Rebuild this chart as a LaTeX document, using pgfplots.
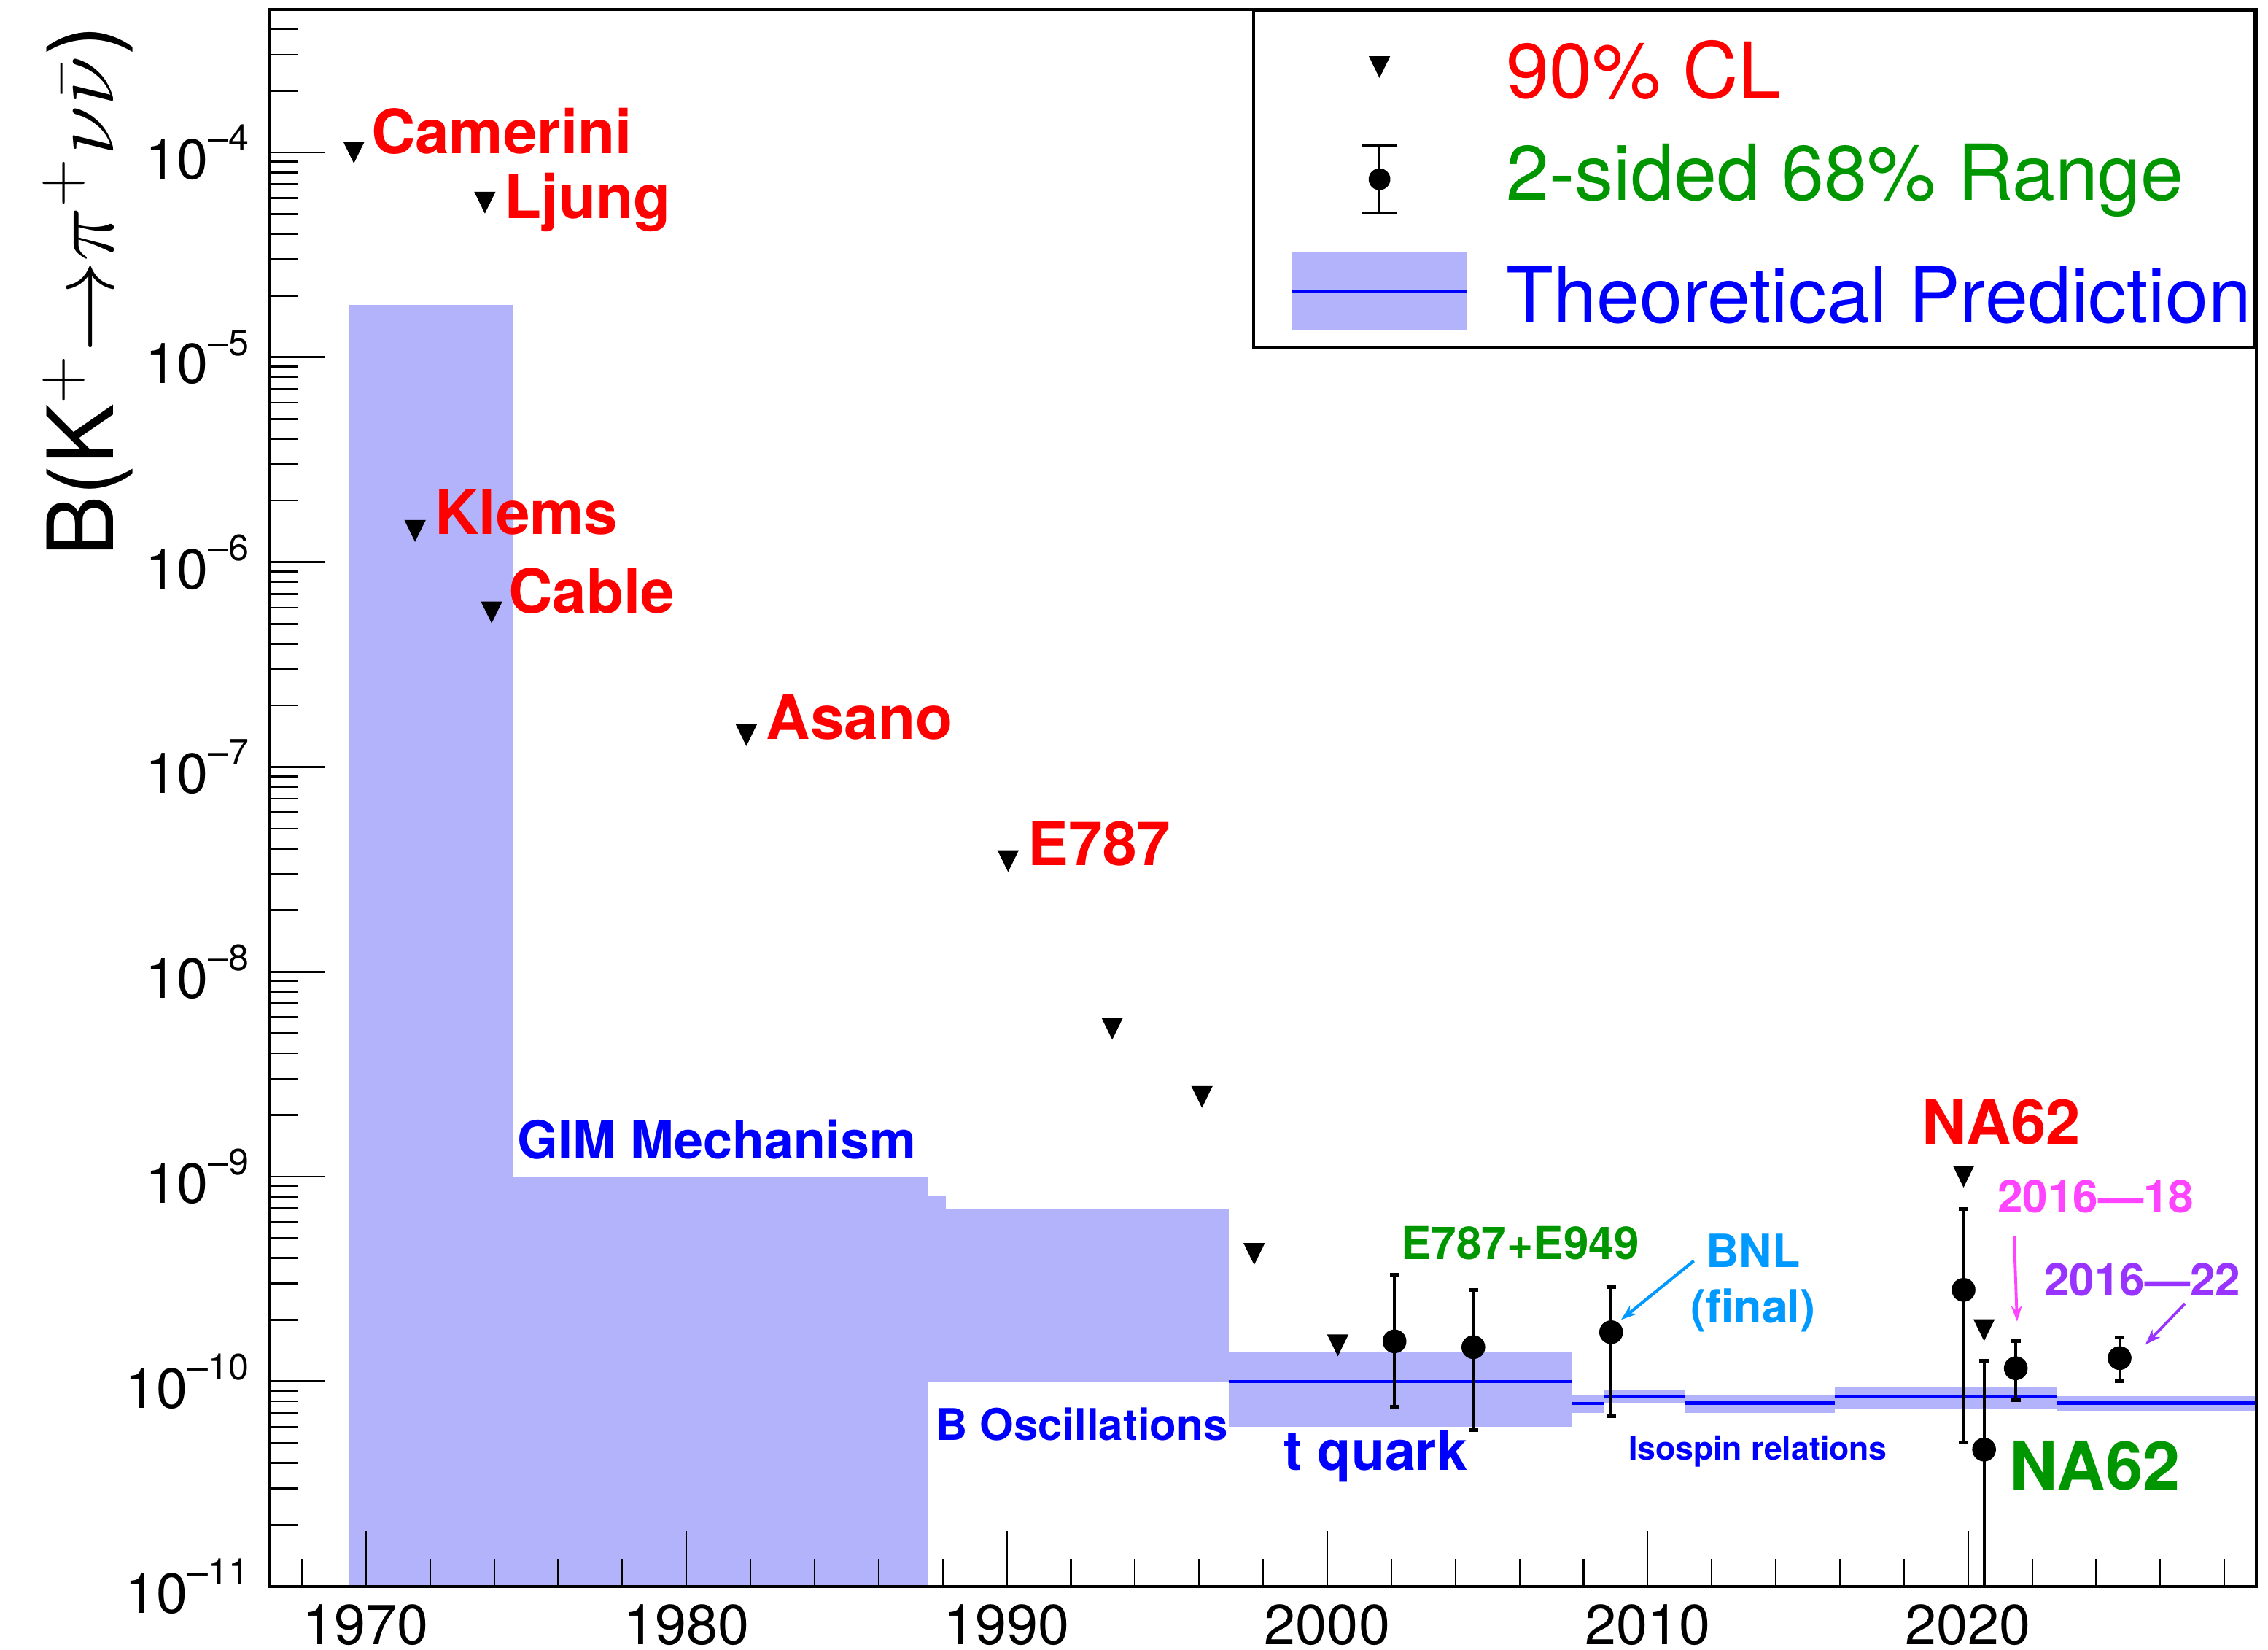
\documentclass[border=0pt]{standalone}
\usepackage{fix-cm}
\usepackage{fontspec}
\setmainfont{TeX Gyre Heros}
\usepackage{pgfplots}
\pgfplotsset{compat=1.18}
\usetikzlibrary{arrows.meta}

\definecolor{bandc}{RGB}{179,179,252}
\definecolor{rootgreen}{RGB}{0,150,0}
\definecolor{bnlblue}{RGB}{0,153,255}
\definecolor{magc}{RGB}{255,68,255}
\definecolor{purpc}{RGB}{153,51,255}

\pgfdeclareplotmark{tridown}{%
  \pgfpathmoveto{\pgfpoint{-0.74mm}{0.755mm}}%
  \pgfpathlineto{\pgfpoint{0.74mm}{0.755mm}}%
  \pgfpathlineto{\pgfpoint{0mm}{-0.755mm}}%
  \pgfpathclose
  \pgfusepathqfill}
\pgfdeclareplotmark{errleg}{%
  \pgfsetlinewidth{0.5pt}%
  \pgfpathmoveto{\pgfpoint{0mm}{-2.33mm}}%
  \pgfpathlineto{\pgfpoint{0mm}{2.33mm}}%
  \pgfusepathqstroke
  \pgfsetlinewidth{0.6pt}%
  \pgfpathmoveto{\pgfpoint{-1.22mm}{2.33mm}}%
  \pgfpathlineto{\pgfpoint{1.22mm}{2.33mm}}%
  \pgfpathmoveto{\pgfpoint{-1.22mm}{-2.33mm}}%
  \pgfpathlineto{\pgfpoint{1.22mm}{-2.33mm}}%
  \pgfusepathqstroke
  \pgfpathcircle{\pgfpoint{0mm}{0mm}}{0.75mm}%
  \pgfusepathqfill}
\pgfdeclareplotmark{bandleg}{%
  \pgfsetfillcolor{bandc}%
  \pgfpathrectangle{\pgfpoint{-6.075mm}{-2.71mm}}{\pgfpoint{12.15mm}{5.42mm}}%
  \pgfusepathqfill
  \pgfsetstrokecolor{blue}%
  \pgfsetlinewidth{0.6pt}%
  \pgfpathmoveto{\pgfpoint{-6.075mm}{0mm}}%
  \pgfpathlineto{\pgfpoint{6.075mm}{0mm}}%
  \pgfusepathqstroke}

\newcommand{\tp}[1]{10\raisebox{1.95mm}{\fontsize{7.2}{8}\selectfont --#1}}
\tikzset{lbl/.style={anchor=base west, inner sep=0pt}}

\begin{document}
\begin{tikzpicture}
\useasboundingbox (-18.66mm,-4.36mm) rectangle (138.14mm,109.64mm);
\begin{axis}[
  at={(0,0)}, anchor=south west,
  scale only axis, width=137.34mm, height=109.0mm,
  xmin=1967, xmax=2029, ymode=log, ymin=1e-11, ymax=5e-4,
  axis on top,
  xtick={1970,1980,1990,2000,2010,2020},
  xticklabels={1970,1980,1990,2000,2010,2020},
  minor xtick={1968,1970,1972,1974,1976,1978,1980,1982,1984,1986,1988,1990,1992,1994,1996,1998,2000,2002,2004,2006,2008,2010,2012,2014,2016,2018,2020,2022,2024,2026,2028},
  ytick={1e-11,1e-10,1e-9,1e-8,1e-7,1e-6,1e-5,1e-4},
  yticklabels={\tp{11},\tp{10},\tp{9},\tp{8},\tp{7},\tp{6},\tp{5},\tp{4}},
  minor ytick={2e-11,3e-11,4e-11,5e-11,6e-11,7e-11,8e-11,9e-11,
    2e-10,3e-10,4e-10,5e-10,6e-10,7e-10,8e-10,9e-10,
    2e-9,3e-9,4e-9,5e-9,6e-9,7e-9,8e-9,9e-9,
    2e-8,3e-8,4e-8,5e-8,6e-8,7e-8,8e-8,9e-8,
    2e-7,3e-7,4e-7,5e-7,6e-7,7e-7,8e-7,9e-7,
    2e-6,3e-6,4e-6,5e-6,6e-6,7e-6,8e-6,9e-6,
    2e-5,3e-5,4e-5,5e-5,6e-5,7e-5,8e-5,9e-5,
    2e-4,3e-4,4e-4},
  xtick pos=left, ytick pos=left,
  tick align=inside,
  major tick length=3.8mm, minor tick length=1.9mm,
  xtick style={line width=0.3pt, black},
  ytick style={line width=0.4pt, black},
  axis line style={line width=0.57pt},
  xticklabel style={font=\fontsize{11.1}{13}\selectfont, inner sep=0pt, anchor=north, yshift=-1.2mm},
  yticklabel style={font=\fontsize{11.1}{13}\selectfont, inner sep=0pt, anchor=east, xshift=-1.38mm},
  ylabel={B(K$^{+}\mathord{\rightarrow}\pi^{+}\nu\bar{\nu}$)},
  ylabel style={at={(axis description cs:-0.0789,0.9905)}, anchor=base east, inner sep=0pt, font=\fontsize{18}{22}\selectfont},
  legend cell align=left,
  legend style={at={(1,1)}, anchor=north east, draw=black, fill=white, line width=0.55pt,
    inner xsep=0.25mm, inner ysep=0.9mm, row sep=1.75mm, column sep=2.7mm,
    nodes={inner sep=0pt, text height=5.15mm, text depth=0.85mm, font=\fontsize{15.2}{18}\selectfont}},
]
% legend
\addlegendimage{legend image code/.code={\path[draw=none, fill=none] (-2.38mm,0mm) -- (12.15mm,0mm); \fill[black] plot[only marks, mark=tridown] coordinates {(6.07mm,0mm)};}}
\addlegendentry[text=red]{90\% CL}
\addlegendimage{legend image code/.code={\path[draw=none, fill=none] (-2.38mm,0mm) -- (12.15mm,0mm); \fill[black] plot[only marks, mark=errleg] coordinates {(6.07mm,0mm)};}}
\addlegendentry[text=rootgreen]{\raisebox{0.72mm}{2-sided 68\% Range}}
\addlegendimage{legend image code/.code={\path[draw=none, fill=none] (-2.38mm,0mm) -- (12.15mm,0mm); \fill[bandc] plot[only marks, mark=bandleg] coordinates {(6.075mm,0mm)};}}
\addlegendentry[text=blue]{Theoretical Prediction}

% theory bands
\addplot[fill=bandc, draw=none, forget plot] coordinates {(1969.47,1e-11) (1974.6,1e-11) (1974.6,1.8e-5) (1969.47,1.8e-5)} -- cycle;
\addplot[fill=bandc, draw=none, forget plot] coordinates {(1974.6,1e-11) (1987.55,1e-11) (1987.55,1e-9) (1974.6,1e-9)} -- cycle;
\addplot[fill=bandc, draw=none, forget plot] coordinates {(1987.55,1e-10) (1988.09,1e-10) (1988.09,8.0e-10) (1987.55,8.0e-10)} -- cycle;
\addplot[fill=bandc, draw=none, forget plot] coordinates {(1988.09,1e-10) (1996.93,1e-10) (1996.93,7.0e-10) (1988.09,7.0e-10)} -- cycle;
\addplot[fill=bandc, draw=none, forget plot] coordinates {(1996.93,6.02e-11) (2007.63,6.02e-11) (2007.63,1.40e-10) (1996.93,1.40e-10)} -- cycle;
\addplot[fill=bandc, draw=none, forget plot] coordinates {(2007.63,7.0e-11) (2008.63,7.0e-11) (2008.63,8.65e-11) (2007.63,8.65e-11)} -- cycle;
\addplot[fill=bandc, draw=none, forget plot] coordinates {(2008.63,7.82e-11) (2011.17,7.82e-11) (2011.17,9.16e-11) (2008.63,9.16e-11)} -- cycle;
\addplot[fill=bandc, draw=none, forget plot] coordinates {(2011.17,7.0e-11) (2015.85,7.0e-11) (2015.85,8.6e-11) (2011.17,8.6e-11)} -- cycle;
\addplot[fill=bandc, draw=none, forget plot] coordinates {(2015.85,7.4e-11) (2022.75,7.4e-11) (2022.75,9.4e-11) (2015.85,9.4e-11)} -- cycle;
\addplot[fill=bandc, draw=none, forget plot] coordinates {(2022.75,7.2e-11) (2029,7.2e-11) (2029,8.45e-11) (2022.75,8.45e-11)} -- cycle;

% central values
\addplot[blue, line width=0.65pt, forget plot] coordinates {(1996.93,1e-10) (2007.63,1e-10)};
\addplot[blue, line width=0.65pt, forget plot] coordinates {(2007.63,7.82e-11) (2008.63,7.82e-11)};
\addplot[blue, line width=0.65pt, forget plot] coordinates {(2008.63,8.49e-11) (2011.17,8.49e-11)};
\addplot[blue, line width=0.65pt, forget plot] coordinates {(2011.17,7.84e-11) (2015.85,7.84e-11)};
\addplot[blue, line width=0.65pt, forget plot] coordinates {(2015.85,8.4e-11) (2022.75,8.4e-11)};
\addplot[blue, line width=0.65pt, forget plot] coordinates {(2022.75,7.85e-11) (2029,7.85e-11)};

% 90% CL upper limits
\addplot[only marks, mark=tridown, black, forget plot] coordinates {
 (1969.62,1.0e-4) (1973.71,5.69e-5) (1971.53,1.42e-6) (1973.92,5.68e-7)
 (1981.87,1.43e-7) (1990.04,3.47e-8) (1993.29,5.27e-9) (1996.09,2.45e-9)
 (1997.72,4.19e-10) (2000.33,1.5e-10) (2019.86,1.0e-9) (2020.5,1.78e-10)};

% measurements with 68% ranges
\addplot[only marks, mark=*, mark size=0.75mm, black, forget plot,
  error bars/.cd, y dir=both, y explicit,
  error bar style={line width=0.55pt, black},
  error mark options={rotate=90, line width=0.75pt, mark size=0.33mm, black}]
  table[x=x, y=y, y error plus=ep, y error minus=em, row sep=\\] {
  x y ep em \\
  2002.10 1.57e-10 1.75e-10 0.82e-10 \\
  2004.56 1.47e-10 1.32e-10 0.89e-10 \\
  2008.86 1.74e-10 1.15e-10 1.06e-10 \\
  2019.86 2.80e-10 4.15e-10 2.295e-10 \\
  2020.50 4.65e-11 7.95e-11 4.64e-11 \\
  2021.49 1.16e-10 0.41e-10 0.35e-10 \\
  2024.73 1.30e-10 0.34e-10 0.30e-10 \\
};

% arrows
\addplot[bnlblue, line width=0.6pt, -{Stealth[length=1.1mm, width=0.75mm]}, forget plot] coordinates {(2011.44,3.88e-10) (2009.17,2.0e-10)};
\addplot[magc, line width=0.55pt, -{Stealth[length=1.1mm, width=0.75mm]}, forget plot] coordinates {(2021.44,5.1e-10) (2021.53,1.96e-10)};
\addplot[purpc, line width=0.55pt, -{Stealth[length=1.1mm, width=0.75mm]}, forget plot] coordinates {(2026.77,2.4e-10) (2025.53,1.51e-10)};

% labels
\node[lbl, text=red, font=\bfseries\fontsize{12}{14}\selectfont] at (axis cs:1970.13,9.9e-5) {Camerini};
\node[lbl, text=red, font=\bfseries\fontsize{12}{14}\selectfont] at (axis cs:1974.29,4.76e-5) {Ljung};
\node[lbl, text=red, font=\bfseries\fontsize{12}{14}\selectfont] at (axis cs:1972.12,1.37e-6) {Klems};
\node[lbl, text=red, font=\bfseries\fontsize{12}{14}\selectfont] at (axis cs:1974.42,5.62e-7) {Cable};
\node[lbl, text=red, font=\bfseries\fontsize{12}{14}\selectfont] at (axis cs:1982.46,1.36e-7) {Asano};
\node[lbl, text=red, font=\bfseries\fontsize{12}{14}\selectfont] at (axis cs:1990.63,3.31e-8) {E787};
\node[lbl, text=blue, font=\bfseries\fontsize{10.3}{12}\selectfont] at (axis cs:1974.69,1.22e-9) {GIM Mechanism};
\node[lbl, text=blue, font=\bfseries\fontsize{8.6}{10}\selectfont] at (axis cs:1987.76,5.16e-11) {B Oscillations};
\node[lbl, text=blue, font=\bfseries\fontsize{10.8}{13}\selectfont] at (axis cs:1998.62,3.7e-11) {t quark};
\node[lbl, text=blue, font=\bfseries\fontsize{6.4}{8}\selectfont] at (axis cs:2009.37,4.14e-11) {Isospin relations};
\node[lbl, text=rootgreen, font=\bfseries\fontsize{8.9}{11}\selectfont] at (axis cs:2002.28,3.93e-10) {E787+E949};
\node[anchor=base, inner sep=0pt, text=bnlblue, font=\bfseries\fontsize{9}{11}\selectfont] at (axis cs:2013.29,3.61e-10) {BNL};
\node[anchor=base, inner sep=0pt, text=bnlblue, font=\bfseries\fontsize{9}{11}\selectfont] at (axis cs:2013.29,1.93e-10) {(final)};
\node[lbl, text=red, font=\bfseries\fontsize{12.2}{14}\selectfont] at (axis cs:2018.54,1.44e-9) {NA62};
\node[lbl, text=rootgreen, font=\bfseries\fontsize{13.2}{15}\selectfont] at (axis cs:2021.25,2.95e-11) {NA62};
\node[lbl, text=magc, font=\bfseries\fontsize{8.9}{11}\selectfont] at (axis cs:2020.89,6.68e-10) {2016---18};
\node[lbl, text=purpc, font=\bfseries\fontsize{8.9}{11}\selectfont] at (axis cs:2022.35,2.62e-10) {2016---22};
\end{axis}
\end{tikzpicture}
\end{document}
